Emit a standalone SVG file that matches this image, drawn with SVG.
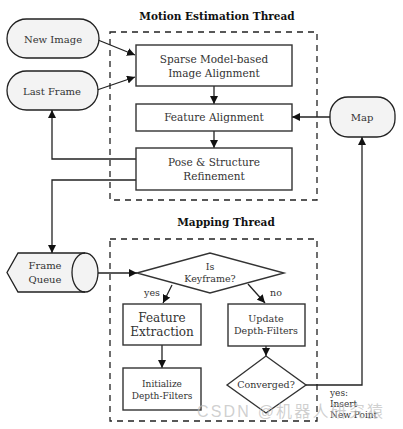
<svg xmlns="http://www.w3.org/2000/svg" width="403" height="429" viewBox="0 0 403 429">
<style>
.t{font-family:"DejaVu Serif","Liberation Serif",serif;fill:#333;text-anchor:middle}
.b{font-weight:bold;fill:#111;font-size:10.5px}
.box{fill:#fff;stroke:#333;stroke-width:1.4}
.term{fill:#f3f3f3;stroke:#222;stroke-width:1.3}
.dash{fill:none;stroke:#222;stroke-width:1.3;stroke-dasharray:6,5}
.c{fill:none;stroke:#222;stroke-width:1.3}
</style>
<defs>
<marker id="ah" viewBox="0 0 10 10" refX="10" refY="5" markerWidth="8" markerHeight="8" markerUnits="userSpaceOnUse" orient="auto">
<path d="M0,0 L10,5 L0,10 z" fill="#111"/>
</marker>
</defs>
<rect fill="#fff" width="403" height="429"/>
<text class="t b" x="217" y="20">Motion Estimation Thread</text>
<rect class="dash" x="110" y="32" width="207" height="168"/>
<text class="t b" x="226" y="226">Mapping Thread</text>
<rect class="dash" x="110" y="239" width="207" height="182"/>

<g id="connectors">
<line class="c" x1="98" y1="40" x2="135" y2="55" marker-end="url(#ah)"/>
<line class="c" x1="97" y1="90" x2="135" y2="77" marker-end="url(#ah)"/>
<line class="c" x1="214" y1="86" x2="214" y2="104" marker-end="url(#ah)"/>
<line class="c" x1="214" y1="131" x2="214" y2="148" marker-end="url(#ah)"/>
<line class="c" x1="330" y1="117" x2="292" y2="117" marker-end="url(#ah)"/>
<polyline class="c" points="136,159 52,159 52,110" marker-end="url(#ah)"/>
<polyline class="c" points="136,180 52,180 52,253" marker-end="url(#ah)"/>
<line class="c" x1="98" y1="273" x2="137" y2="273" marker-end="url(#ah)"/>
<line class="c" x1="172" y1="285" x2="163" y2="303" marker-end="url(#ah)"/>
<line class="c" x1="248" y1="284" x2="265" y2="303" marker-end="url(#ah)"/>
<line class="c" x1="162" y1="345" x2="162" y2="368" marker-end="url(#ah)"/>
<line class="c" x1="266" y1="346" x2="266" y2="356" marker-end="url(#ah)"/>
<polyline class="c" points="306,385 362,385 362,137" marker-end="url(#ah)"/>
<text class="t" x="152" y="296" style="font-size:9.5px">yes</text>
<text class="t" x="276" y="296" style="font-size:9.5px">no</text>
<text class="t" x="330" y="396" style="font-size:9px;text-anchor:start">yes:</text>
<text class="t" x="330" y="407" style="font-size:9px;text-anchor:start">Insert</text>
<text class="t" x="330" y="418" style="font-size:9px;text-anchor:start">New Point</text>
</g>

<g id="new-image">
<rect class="term" x="7" y="19" width="92" height="39" rx="19.5"/>
<text class="t" x="53" y="43" style="font-size:10px">New Image</text>
</g>
<g id="last-frame">
<rect class="term" x="7" y="71" width="91" height="39" rx="19.5"/>
<text class="t" x="52" y="95" style="font-size:10px">Last Frame</text>
</g>
<g id="map">
<rect class="term" x="330" y="97" width="65" height="40" rx="18"/>
<text class="t" x="362" y="121" style="font-size:10px">Map</text>
</g>
<g id="sparse">
<rect class="box" x="136" y="45" width="156" height="41"/>
<text class="t" x="214" y="63" style="font-size:10.5px">Sparse Model-based</text>
<text class="t" x="214" y="77" style="font-size:10.5px">Image Alignment</text>
</g>
<g id="feature-alignment">
<rect class="box" x="136" y="104" width="156" height="27"/>
<text class="t" x="214" y="121" style="font-size:10.5px">Feature Alignment</text>
</g>
<g id="pose">
<rect class="box" x="136" y="148" width="156" height="42"/>
<text class="t" x="214" y="166" style="font-size:10.5px">Pose &amp; Structure</text>
<text class="t" x="214" y="180" style="font-size:10.5px">Refinement</text>
</g>
<g id="frame-queue">
<path class="term" d="M18,253 L85,253 A13,19.5 0 0 1 85,292 L18,292 L7,272.5 Z"/>
<path class="c" d="M85,253 A13,19.5 0 0 0 85,292"/>
<text class="t" x="45" y="269" style="font-size:10px">Frame</text>
<text class="t" x="45" y="283" style="font-size:10px">Queue</text>
</g>
<g id="is-keyframe">
<polygon class="box" points="137,273 210,253 284,273 210,293"/>
<text class="t" x="210" y="270" style="font-size:9.5px">Is</text>
<text class="t" x="210" y="282" style="font-size:9.5px">Keyframe?</text>
</g>
<g id="feature-extraction">
<rect class="box" x="123" y="304" width="78" height="41"/>
<text class="t" x="162" y="322" style="font-size:12px">Feature</text>
<text class="t" x="162" y="336" style="font-size:12px">Extraction</text>
</g>
<g id="initialize">
<rect class="box" x="123" y="368" width="78" height="42"/>
<text class="t" x="162" y="387" style="font-size:9px">Initialize</text>
<text class="t" x="162" y="399" style="font-size:9px">Depth-Filters</text>
</g>
<g id="update">
<rect class="box" x="228" y="304" width="77" height="42"/>
<text class="t" x="266" y="322" style="font-size:9.5px">Update</text>
<text class="t" x="266" y="334" style="font-size:9.5px">Depth-Filters</text>
</g>
<g id="converged">
<polygon class="box" points="227,385 266,356 306,385 266,413"/>
<text class="t" x="266" y="388" style="font-size:9.5px">Converged?</text>
</g>
<text x="197" y="417" textLength="186" style="font-family:'Liberation Sans','Noto Sans CJK SC',sans-serif;font-size:16px;fill:#bbb;fill-opacity:0.7">CSDN @机器人研究猿</text>
</svg>
